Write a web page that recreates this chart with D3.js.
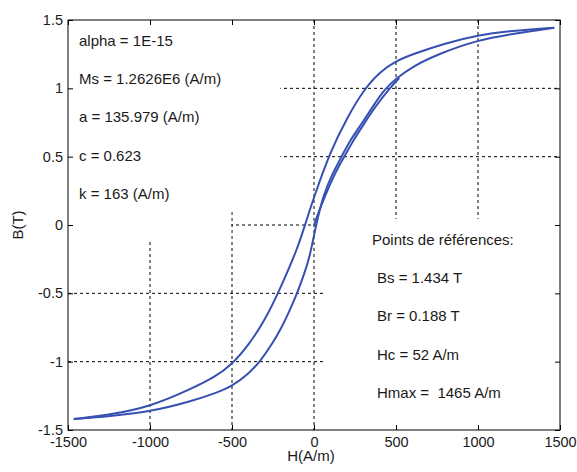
<!DOCTYPE html>
<html>
<head>
<meta charset="utf-8">
<script src="https://cdn.jsdelivr.net/npm/d3@7"></script>
<style>
  body { margin: 0; background: #fff; }
  svg { display: block; font-family: "Liberation Sans", Arial, sans-serif; }
  .note { font-size: 15px; fill: #1a1a1a; white-space: pre; }
  .tick text { font-size: 14.5px; fill: #1a1a1a; font-family: "Liberation Sans", Arial, sans-serif; }
</style>
</head>
<body>
<div id="chart"></div>
<script>
// descending branch (from +Hmax down to -Hmax)
var descH = [1465, 1200, 1000, 800, 600, 500, 400, 300, 200, 100, 0, -55, -100, -200, -300, -400, -500, -600, -750, -1000, -1250, -1465];
var descB = [1.444, 1.42, 1.39, 1.33, 1.25, 1.20, 1.12, 0.985, 0.78, 0.54, 0.205, 0, -0.17, -0.45, -0.70, -0.88, -1.02, -1.11, -1.20, -1.33, -1.39, -1.42];
// ascending branch (from -Hmax up to +Hmax)
var ascH = [-1465, -1250, -1000, -750, -600, -500, -400, -329, -250, -197, -150, -103, -60, -25, 12, 57, 110, 168, 220, 296, 360, 435, 500, 600, 768, 1000, 1215, 1465];
var ascB = [-1.42, -1.40, -1.366, -1.29, -1.23, -1.18, -1.09, -1.0, -0.86, -0.75, -0.63, -0.5, -0.36, -0.23, 0, 0.22, 0.37, 0.5, 0.62, 0.75, 0.87, 1.0, 1.07, 1.16, 1.256, 1.354, 1.40, 1.444];
// first magnetisation curve
var initH = [0, 30, 70, 110, 150, 190, 240, 305, 370, 460, 520];
var initB = [0, 0.1, 0.22, 0.33, 0.43, 0.51, 0.62, 0.74, 0.86, 1.0, 1.075];

var xTicks = [-1500, -1000, -500, 0, 500, 1000, 1500];
var yTicks = [-1.5, -1, -0.5, 0, 0.5, 1, 1.5];

var leftNotes = ["alpha = 1E-15", "Ms = 1.2626E6 (A/m)", "a = 135.979 (A/m)", "c = 0.623", "k = 163 (A/m)"];
var rightNotes = ["Points de références:", "Bs = 1.434 T", "Br = 0.188 T", "Hc = 52 A/m", "Hmax =  1465 A/m"];

var width = 577, height = 472;
var plotL = 68, plotR = 560, plotT = 20, plotB = 430;

var svg = d3.select("#chart").append("svg")
  .attr("width", width)
  .attr("height", height);

var x = d3.scaleLinear().domain([-1500, 1500]).range([plotL, plotR]);
var y = d3.scaleLinear().domain([-1.5, 1.5]).range([plotB, plotT]);

// grid
var gridX = xTicks.slice(1, -1), gridY = yTicks.slice(1, -1);
svg.append("g").selectAll("line").data(gridX).enter().append("line")
  .attr("x1", function(d){ return x(d) }).attr("x2", function(d){ return x(d) })
  .attr("y1", plotT).attr("y2", plotB)
  .attr("stroke", "#000").attr("stroke-width", 1).attr("stroke-dasharray", "3,3");
svg.append("g").selectAll("line").data(gridY).enter().append("line")
  .attr("y1", function(d){ return y(d) }).attr("y2", function(d){ return y(d) })
  .attr("x1", plotL).attr("x2", plotR)
  .attr("stroke", "#000").attr("stroke-width", 1).attr("stroke-dasharray", "3,3");

// white backgrounds of the text blocks (hide the grid)
var boxes = [
  [-1500, -205, 1.5, 0.095],
  [-1500, -505, 0.095, -0.11],
  [20, 1500, 0.045, -0.25],
  [67, 1500, -0.25, -1.5]
];
svg.append("g").selectAll("rect").data(boxes).enter().append("rect")
  .attr("x", function(d){ return x(d[0]) })
  .attr("y", function(d){ return y(d[2]) })
  .attr("width", function(d){ return x(d[1]) - x(d[0]) })
  .attr("height", function(d){ return y(d[3]) - y(d[2]) })
  .attr("fill", "#fff");

// axes (inward ticks on all sides)
var fmt = function(d){ return String(d) };
svg.append("g").attr("transform", "translate(0," + plotB + ")")
  .call(d3.axisBottom(x).tickValues(xTicks).tickSize(-5).tickSizeOuter(0).tickPadding(7).tickFormat(fmt));
svg.append("g").attr("transform", "translate(" + plotL + ",0)")
  .call(d3.axisLeft(y).tickValues(yTicks).tickSize(-5).tickSizeOuter(0).tickPadding(5).tickFormat(fmt));
svg.append("g").attr("transform", "translate(0," + plotT + ")")
  .call(d3.axisTop(x).tickValues(xTicks).tickSize(-5).tickSizeOuter(0).tickFormat(""));
svg.append("g").attr("transform", "translate(" + plotR + ",0)")
  .call(d3.axisRight(y).tickValues(yTicks).tickSize(-5).tickSizeOuter(0).tickFormat(""));
svg.selectAll(".domain").remove();
svg.selectAll(".tick line").attr("stroke", "#000");

// curves
var line = d3.line()
  .x(function(d){ return x(d[0]) })
  .y(function(d){ return y(d[1]) })
  .curve(d3.curveBasis);
var branches = [
  d3.zip(descH, descB),
  d3.zip(ascH, ascB),
  d3.zip(initH, initB)
];
svg.append("g").selectAll("path").data(branches).enter().append("path")
  .attr("d", line)
  .attr("fill", "none")
  .attr("stroke", "#3650b2")
  .attr("stroke-width", 2);

// frame
svg.append("rect")
  .attr("x", plotL).attr("y", plotT)
  .attr("width", plotR - plotL).attr("height", plotB - plotT)
  .attr("fill", "none").attr("stroke", "#000").attr("stroke-width", 1);

// annotations
svg.append("g").selectAll("text").data(leftNotes).enter().append("text")
  .attr("class", "note")
  .attr("x", 79)
  .attr("y", function(d, i){ return 46 + 38.2 * i })
  .text(function(d){ return d });
svg.append("g").selectAll("text").data(rightNotes).enter().append("text")
  .attr("class", "note")
  .attr("x", function(d, i){ return i == 0 ? 372 : 377 })
  .attr("y", function(d, i){ return 245 + 38.2 * i })
  .text(function(d){ return d });

// axis labels
svg.append("text")
  .attr("class", "note")
  .attr("x", 311).attr("y", 461)
  .attr("text-anchor", "middle")
  .text("H(A/m)");
svg.append("text")
  .attr("class", "note")
  .attr("transform", "translate(23,225) rotate(-90)")
  .attr("text-anchor", "middle")
  .text("B(T)");
</script>
</body>
</html>
